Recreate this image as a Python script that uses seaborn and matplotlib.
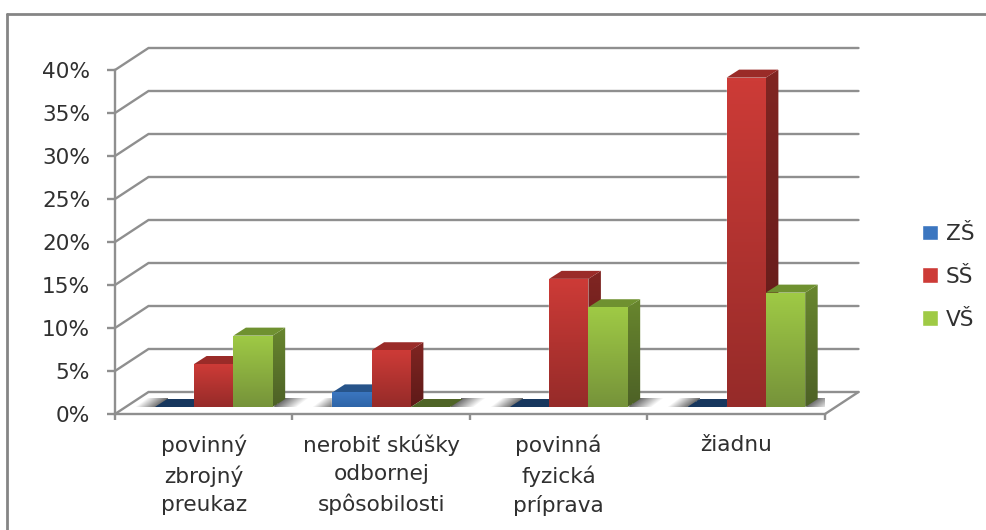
import numpy as np
import pandas as pd
import matplotlib
matplotlib.use("Agg")
import matplotlib.pyplot as plt
import seaborn as sns
from matplotlib.colors import LinearSegmentedColormap, to_rgb
from matplotlib.lines import Line2D
from matplotlib.patches import Polygon
from matplotlib.transforms import Affine2D, IdentityTransform

# data
kategorie = ["povinný\nzbrojný\npreukaz", "nerobiť skúšky\nodbornej\nspôsobilosti",
             "povinná\nfyzická\npríprava", "žiadnu"]
zs = [0, 1.7, 0, 0]
ss = [5.0, 6.6, 14.9, 38.3]
vs = [8.3, 0, 11.6, 13.3]
percenta = [0, 5, 10, 15, 20, 25, 30, 35, 40]

W, H = 987, 530
GRID = "#8f8f8f"
TEXT = "#303030"
FONT = 15.6
ID = IdentityTransform()

# farby: predok hore, predok dole, bok hore, bok dole, vrch, vrch pri nule
FARBY = [
    ("#3b76c0", "#2e65a8", "#24508a", "#1c3f6e", "#27548a", "#17375e"),
    ("#cd3b37", "#962b29", "#802522", "#5e1a18", "#9a2b28", "#7a201e"),
    ("#9fca45", "#76933a", "#68862e", "#4d6126", "#6f9130", "#4f6426"),
]

df = pd.DataFrame({"kategoria": kategorie * 3,
                   "skupina": ["ZŠ"] * 4 + ["SŠ"] * 4 + ["VŠ"] * 4,
                   "hodnota": zs + ss + vs})

sns.set_theme(style="white")
plt.rcParams["font.family"] = ["DejaVu Sans"]

fig = plt.figure(figsize=(W / 100, H / 100), dpi=100)
ax = fig.add_axes([115 / W, (H - 414) / H, 710 / W, 344 / H])

sns.barplot(data=df, x="kategoria", y="hodnota", hue="skupina", order=kategorie,
            hue_order=["ZŠ", "SŠ", "VŠ"], palette=[f[0] for f in FARBY],
            width=0.664, saturation=1, ax=ax, zorder=3)
ax.set_xlim(-0.5, 3.5)
ax.set_ylim(0, 40)
ax.set_autoscale_on(False)
ax.set_xlabel("")
ax.set_ylabel("")
ax.set_yticks(percenta)
ax.set_yticklabels([f"{p}%" for p in percenta])
ax.set_xticks([-0.5, 0.5, 1.5, 2.5, 3.5], labels=[""] * 5)
ax.set_xticks([0, 1, 2, 3], labels=kategorie, minor=True)

ax.tick_params(axis="y", length=5.8, width=1.7, color=GRID, pad=12, labelsize=FONT, labelcolor=TEXT, left=True)
ax.tick_params(axis="x", which="major", length=4.5, width=1.7, color=GRID, bottom=True)
ax.tick_params(axis="x", which="minor", length=0, pad=15, labelsize=FONT, labelcolor=TEXT)
for lab in ax.get_xticklabels(minor=True):
    lab.set_linespacing(1.5)
for s in ["top", "right"]:
    ax.spines[s].set_visible(False)
for s in ["left", "bottom"]:
    ax.spines[s].set_color(GRID)
    ax.spines[s].set_linewidth(1.7)

# zadna stena a podlaha
HL_X, HL_Y = 33.5, 22
for p in percenta:
    x0, y0 = ax.transData.transform((-0.5, p))
    x1, _ = ax.transData.transform((3.5, p))
    ax.plot([x0, x0 + HL_X, x1 + HL_X], [y0, y0 + HL_Y, y0 + HL_Y], color=GRID, lw=1.7,
            transform=ID, clip_on=False, zorder=1, solid_joinstyle="miter")
x1, y0 = ax.transData.transform((3.5, 0))
ax.plot([x1, x1 + HL_X], [y0, y0 + HL_Y], color=GRID, lw=1.7, transform=ID, clip_on=False, zorder=1)


def prechod(verts, c1, c2, z):
    verts = np.array(verts)
    cmap = LinearSegmentedColormap.from_list("p", [c1, c2])
    g = np.linspace(0, 1, 64)[:, None]
    im = ax.imshow(g, cmap=cmap, aspect="auto", transform=ID, zorder=z, interpolation="bilinear",
                   extent=(verts[:, 0].min(), verts[:, 0].max(), verts[:, 1].min(), verts[:, 1].max()))
    im.set_clip_path(Polygon(verts, transform=ID))


def tien(x_a, x_b, y, silny_vlavo):
    # mäkký tieň na podlahe vedľa skupiny stĺpcov, tmavší pri stĺpci
    sikmo, vyska = 12, 9
    stlpcov = int(x_b - x_a + sikmo)
    xx, yy = np.meshgrid(np.arange(stlpcov) + 0.5, np.arange(vyska)[::-1] + 0.5)
    d = (xx - yy * sikmo / vyska) / (x_b - x_a)
    sila = 1 - d if silny_vlavo else d
    sila[(d < 0) | (d > 1)] = 0
    rgba = np.zeros((vyska, stlpcov, 4))
    rgba[..., :3] = to_rgb("#4a4a4a")
    rgba[..., 3] = 0.85 * sila
    ax.imshow(rgba, aspect="auto", transform=ID, zorder=2, interpolation="nearest",
              extent=(x_a, x_a + stlpcov, y, y + vyska))


# stĺpce posunuté do stredu hĺbky podlahy
POSUN_X, POSUN_Y = 10, 7
HB_X, HB_Y = 12.5, 8
posun = ax.transData + Affine2D().translate(POSUN_X, POSUN_Y)
stlpce = []
for i, cont in enumerate(ax.containers):
    for bar in cont:
        bar.set_transform(posun)
        stlpce.append((bar.get_x(), i, bar))
stlpce.sort(key=lambda t: t[0])

for n, (_, i, bar) in enumerate(stlpce):
    c = FARBY[i]
    e = bar.get_window_extent()
    l, r, b, t = e.x0, e.x1, e.y0, e.y1
    z = 3 + n * 0.01
    vrch = c[5] if t - b < 1 else c[4]
    if t - b >= 1:
        prechod([(r, b), (r + HB_X, b + HB_Y), (r + HB_X, t + HB_Y), (r, t)], c[2], c[3], z)
    ax.add_patch(Polygon([(l, t), (r, t), (r + HB_X, t + HB_Y), (l + HB_X, t + HB_Y)],
                         closed=True, facecolor=vrch, edgecolor="none", transform=ID, zorder=z, clip_on=False))
    if t - b >= 1:
        prechod([(l, b), (r, b), (r, t), (l, t)], c[0], c[1], z)
    if n % 3 == 0:
        tien(round(l) - 20, round(l) + 2, round(b), False)
    if n % 3 == 2:
        tien(round(r), round(r) + 24, round(b), True)

# legenda
sns.move_legend(ax, "upper left", bbox_to_anchor=(922 / W, (H - 224) / H), bbox_transform=fig.transFigure,
                frameon=False, title=None, fontsize=FONT, labelcolor=TEXT, handlelength=0.75, handleheight=0.75,
                handletextpad=0.35, labelspacing=1.05, borderpad=0, borderaxespad=0)

# rámček obrázka
ram = dict(color="#858585", lw=2, transform=fig.transFigure)
fig.add_artist(Line2D([7 / W, 1], [(H - 14) / H, (H - 14) / H], **ram))
fig.add_artist(Line2D([7 / W, 7 / W], [0, (H - 14) / H], **ram))

fig.savefig("out.png", dpi=100)
